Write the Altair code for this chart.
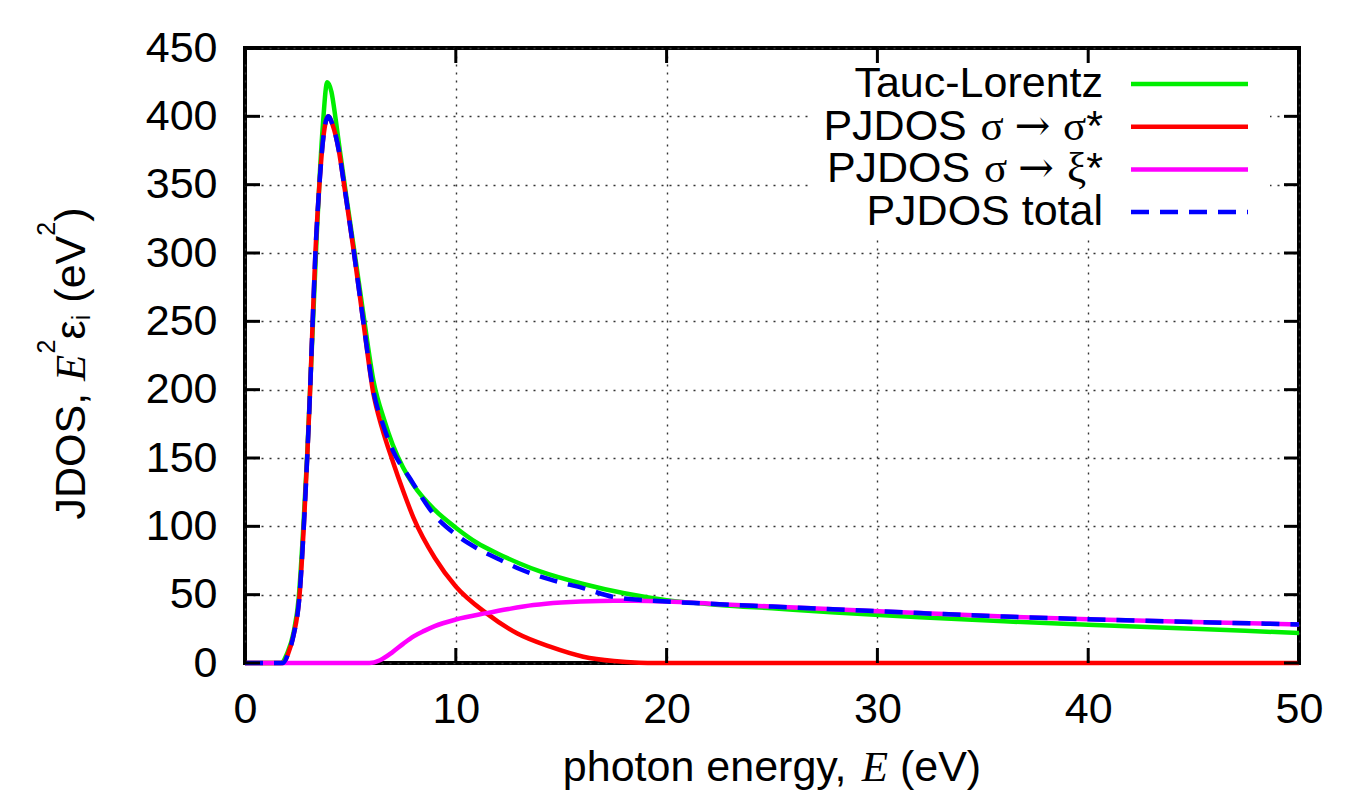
import altair as alt
import pandas as pd

# ---------------- data ----------------
TL_E = [0, 1.7, 2.0, 2.3, 2.55, 2.75, 2.95, 3.1, 3.25, 3.4, 3.55, 3.7, 3.9, 4.1, 4.3, 4.5,
        4.8, 5.2, 5.6, 6.1, 6.6, 7.0, 7.5, 8.0, 9.0, 10, 11, 12, 13, 14, 16, 18, 20, 22.5,
        25, 28, 32, 36, 40, 45, 50]
TL_V = [0, 0, 7, 22, 48, 95, 152, 205, 258, 312, 358, 395, 425, 418, 398, 375,
        342, 300, 257, 206, 178, 160, 143, 130, 112, 99, 88, 80, 73, 67, 58, 51, 46, 42.5,
        40, 37, 33.5, 30.5, 28, 25, 22]

SS_E = [0, 1.8, 2.05, 2.3, 2.59, 2.79, 2.95, 3.09, 3.21, 3.34, 3.53, 3.72, 3.95, 4.15, 4.45,
        4.7, 5.17, 5.61, 6.08, 6.5, 7.0, 7.5, 8.0, 9.0, 10, 11.46, 12.9, 14.47, 16.05,
        17.5, 18.7, 19.5, 50]
SS_V = [0, 0, 7, 20, 50, 100, 150, 200, 250, 300, 350, 385, 400, 394, 375,
        350, 300, 250, 198, 172, 148, 126, 106, 77, 56, 36.3, 21.7, 11.9, 4.6,
        1.4, 0.2, 0, 0]

SX_E = [0, 5.9, 6.4, 7.0, 7.5, 8.0, 8.5, 9.0, 10, 11.46, 12.5, 13.68, 15, 16.84, 18.5, 20,
        22.5, 25, 28.7, 32, 36, 40, 45, 50]
SX_V = [0, 0, 2, 8, 14, 19.5, 23.5, 27, 31.8, 36.5, 39.5, 42.4, 44.3, 45.4, 45.5, 45,
        43, 41.3, 38.8, 36.5, 34, 32, 30, 28.2]

TOT_E = [0, 1.8, 2.05, 2.3, 2.59, 2.79, 2.95, 3.09, 3.21, 3.34, 3.53, 3.72, 3.95, 4.15, 4.45,
         4.7, 5.17, 5.61, 6.08, 6.6, 7.0, 7.83, 9.0, 10, 11, 12.1, 13, 14.5, 16, 17.6, 20,
         22.5, 25, 28.7, 32, 36, 40, 45, 50]
TOT_V = [0, 0, 7, 20, 50, 100, 150, 200, 250, 300, 350, 385, 400, 394, 375,
         350, 300, 250, 200, 172, 156, 135, 108, 94, 84, 75.5, 69, 61, 55, 48, 45,
         43, 41.3, 38.8, 36.5, 34, 32, 30, 28.2]

X_TICKS = [0, 10, 20, 30, 40, 50]
Y_TICKS = [0, 50, 100, 150, 200, 250, 300, 350, 400, 450]

LEGEND_LABELS = ["Tauc-Lorentz", "PJDOS σ → σ*", "PJDOS σ → ξ*", "PJDOS total"]
COLORS = ["#00ee00", "#ff0000", "#ff00ff", "#0000ff"]

# ---------------- layout / style ----------------
W, H = 1054, 615
PAD_L, PAD_T = 245, 48
SANS = "Liberation Sans"
SERIF = "Liberation Serif"
ARROWF = "DejaVu Serif"
FS = 43
LW = 4.5

xscale = alt.Scale(domain=[0, 50], nice=False, zero=False)
yscale = alt.Scale(domain=[0, 450], nice=False, zero=False)

xaxis = alt.Axis(values=X_TICKS, grid=True, gridDash=[2, 6], gridColor="#333333",
                 gridWidth=1.4, ticks=False, domain=False, labelFont=SANS,
                 labelFontSize=FS, labelColor="black", labelPadding=25,
                 labelFlush=False, labelOverlap=False, title=None, format="d")
yaxis = alt.Axis(values=Y_TICKS, grid=True, gridDash=[2, 6], gridColor="#333333",
                 gridWidth=1.4, ticks=False, domain=False, labelFont=SANS,
                 labelFontSize=FS, labelColor="black", labelPadding=28,
                 labelOverlap=False, title=None, format="d")


def curve(E, V, color, dash=None):
    kw = dict(color=color, strokeWidth=LW, interpolate="monotone")
    if dash:
        kw["strokeDash"] = dash
    return alt.Chart(pd.DataFrame({"E": E, "v": V})).mark_line(**kw).encode(
        x=alt.X("E:Q", scale=xscale, axis=xaxis),
        y=alt.Y("v:Q", scale=yscale, axis=yaxis),
    )


one = pd.DataFrame({"k": [0]})

green = curve(TL_E, TL_V, COLORS[0])
legend_box = alt.Chart(one).mark_rect(fill="white").encode(
    x=alt.value(567), x2=alt.value(1025), y=alt.value(3), y2=alt.value(187))
red = curve(SS_E, SS_V, COLORS[1])
magenta = curve(SX_E, SX_V, COLORS[2])
blue = curve(TOT_E, TOT_V, COLORS[3], dash=[18, 11])

TL = 15
xt = pd.DataFrame({"t": X_TICKS})
yt = pd.DataFrame({"t": Y_TICKS})
tick_style = dict(color="black", strokeWidth=3)
ticks = [
    alt.Chart(xt).mark_rule(**tick_style).encode(
        x=alt.X("t:Q", scale=xscale, axis=xaxis), y=alt.value(H), y2=alt.value(H - TL)),
    alt.Chart(xt).mark_rule(**tick_style).encode(
        x=alt.X("t:Q", scale=xscale, axis=xaxis), y=alt.value(0), y2=alt.value(TL)),
    alt.Chart(yt).mark_rule(**tick_style).encode(
        y=alt.Y("t:Q", scale=yscale, axis=yaxis), x=alt.value(0), x2=alt.value(TL)),
    alt.Chart(yt).mark_rule(**tick_style).encode(
        y=alt.Y("t:Q", scale=yscale, axis=yaxis), x=alt.value(W), x2=alt.value(W - TL)),
]


def piece(s, x, y, font=SANS, size=FS, style="normal", angle=0, align="left",
          baseline="alphabetic"):
    return alt.Chart(pd.DataFrame({"s": [s]})).mark_text(
        align=align, baseline=baseline, font=font, fontSize=size,
        fontStyle=style, angle=angle, color="black").encode(
        text="s:N", x=alt.value(x), y=alt.value(y))


# legend (gnuplot style: label left, sample right)
ROW0, ROWSTEP = 36, 42.7
LEG_RIGHT = 858
rows_y = [ROW0 + ROWSTEP * i for i in range(4)]
leg = pd.DataFrame({"color": COLORS, "ly": rows_y})

# each label split into (text, font, em-width) so the greek/arrow use a serif face
label_pieces = [
    [("Tauc-Lorentz", SANS, 0)],
    [("PJDOS", SANS, 3.334), (" ", None, 0.278), ("σ", SERIF, 0.58), (" ", None, 0.25),
     ("→", ARROWF, 0.84), (" ", None, 0.25), ("σ", SERIF, 0.58), ("*", SANS, 0.389)],
    [("PJDOS", SANS, 3.334), (" ", None, 0.278), ("σ", SERIF, 0.58), (" ", None, 0.25),
     ("→", ARROWF, 0.84), (" ", None, 0.25), ("ξ", SERIF, 0.5), ("*", SANS, 0.389)],
    [("PJDOS total", SANS, 0)],
]
leg_text = []
for yrow, parts in zip(rows_y, label_pieces):
    xr = LEG_RIGHT
    for s, f, em in reversed(parts):
        if f is not None:
            leg_text.append(piece(s, xr, yrow, font=f, align="right", baseline="middle"))
        xr -= em * FS

leg_solid = alt.Chart(leg.iloc[:3]).mark_rule(strokeWidth=LW).encode(
    x=alt.value(886), x2=alt.value(1003), y=alt.Y("ly:Q", scale=None),
    color=alt.Color("color:N", scale=None))
leg_dash = alt.Chart(leg.iloc[3:]).mark_rule(strokeWidth=LW, strokeDash=[18, 11]).encode(
    x=alt.value(886), x2=alt.value(1003), y=alt.Y("ly:Q", scale=None),
    color=alt.Color("color:N", scale=None))

# x title: "photon energy, E (eV)" with italic serif E
xt_parts = [("photon energy,", SANS, FS, "normal", 6.671),
            (" ", None, FS, "normal", 0.278),
            ("E", SERIF, FS, "italic", 0.611),
            (" ", None, FS, "normal", 0.278),
            ("(eV)", SANS, FS, "normal", 1.889)]
total = sum(p[2] * p[4] for p in xt_parts)
cx = W / 2 - total / 2
x_title = []
for s, f, sz, st, em in xt_parts:
    if f is not None:
        x_title.append(piece(s, cx, 733, font=f, size=sz, style=st))
    cx += sz * em

# y title: "JDOS, E^2 ε_i (eV^2)" rotated
SUB = 25
yt_parts = [("JDOS,", SANS, FS, "normal", 2.945, 0),
            (" ", None, FS, "normal", 0.278, 0),
            ("E", SERIF, FS, "italic", 0.64, 0),
            ("2", SANS, SUB, "normal", 0.556, -30),
            ("ε", SANS, FS, "normal", 0.45, 0),
            ("i", SANS, SUB, "normal", 0.222, 5),
            (" ", None, FS, "normal", 0.278, 0),
            ("(eV", SANS, FS, "normal", 1.556, 0),
            ("2", SANS, SUB, "normal", 0.556, -30),
            (")", SANS, FS, "normal", 0.333, 0)]
total = sum(p[2] * p[4] for p in yt_parts)
cy = (H / 2 + 8) + total / 2
BASE_X = 85 - PAD_L
y_title = []
for s, f, sz, st, em, sh in yt_parts:
    if f is not None:
        y_title.append(piece(s, BASE_X + sh, cy, font=f, size=sz, style=st, angle=270))
    cy -= sz * em

chart = alt.layer(
    green, legend_box, red, magenta, blue, *ticks, leg_solid, leg_dash,
    *leg_text, *x_title, *y_title
).properties(
    width=W, height=H,
    padding={"left": PAD_L, "top": PAD_T, "right": 1371 - PAD_L - W, "bottom": 796 - PAD_T - H},
    autosize=alt.AutoSizeParams(type="none"),
    background="white",
).configure_view(stroke="black", strokeWidth=4)

chart.save("out.html", embed_options={"renderer": "svg", "actions": False})
